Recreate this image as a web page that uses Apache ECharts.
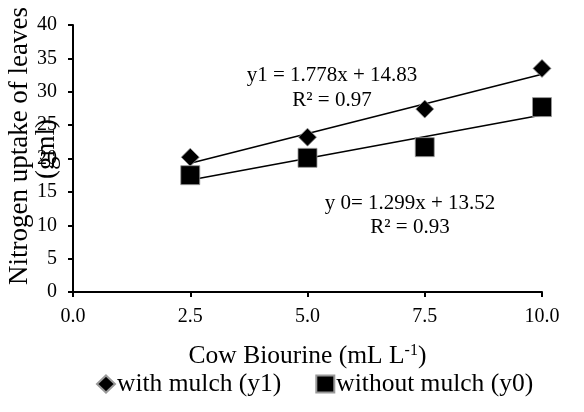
<!DOCTYPE html>
<html><head><meta charset="utf-8">
<script src="https://cdn.jsdelivr.net/npm/echarts@6/dist/echarts.min.js"></script>
<style>html,body{margin:0;padding:0;background:#fff}#c{width:584px;height:412px}</style>
</head><body><div id="c"></div>
<script>
const xValues = [2.5, 5.0, 7.5, 10.0];
const withMulch = [20.2, 23.2, 27.4, 33.5];
const withoutMulch = [17.5, 20.1, 21.7, 27.7];
const fitWith = {slope: 1.778, intercept: 14.83};
const fitWithout = {slope: 1.299, intercept: 13.52};
const eqWith = ['y1 = 1.778x + 14.83', 'R² = 0.97'];
const eqWithout = ['y 0= 1.299x + 13.52', 'R² = 0.93'];

const font = 'Liberation Serif';
const pts = (ys) => xValues.map((x, i) => [x, ys[i]]);
const line = (f) => [xValues[0], xValues[xValues.length-1]].map(x => [x, f.slope * x + f.intercept]);

const chart = echarts.init(document.getElementById('c'));
chart.setOption({
  animation: false,
  grid: {left: 73, right: 42, top: 25, bottom: 120},
  xAxis: {
    type: 'value', min: 0, max: 10, interval: 2.5,
    axisLine: {lineStyle: {color: '#000', width: 2}},
    axisTick: {show: true, inside: false, length: 5, lineStyle: {color: '#000', width: 2}},
    axisLabel: {color: '#000', fontFamily: font, fontSize: 20, margin: 15, formatter: v => v.toFixed(1)},
    splitLine: {show: false},
    name: 'Cow Biourine (mL L{sup|-1})', nameLocation: 'middle', nameGap: 51,
    nameTextStyle: {color: '#000', fontFamily: font, fontSize: 25.5, rich: {sup: {fontFamily: font, fontSize: 16, verticalAlign: 'top', padding: [0,0,10,0], color:'#000'}}}
  },
  yAxis: {
    type: 'value', min: 0, max: 40, interval: 5,
    axisLine: {show: true, lineStyle: {color: '#000', width: 2}},
    axisTick: {show: true, length: 5, lineStyle: {color: '#000', width: 2}},
    axisLabel: {color: '#000', fontFamily: font, fontSize: 20, margin: 16},
    splitLine: {show: false}
  },
  legend: {
    top: 366, left: 91, itemGap: 34, itemWidth: 18, itemHeight: 17,
    textStyle: {color: '#000', fontFamily: font, fontSize: 25.5, padding: [0,0,0,-3]},
    data: [{name: 'with mulch (y1)', icon: 'diamond'}, {name: 'without mulch (y0)', icon: 'rect'}]
  },
  graphic: [
    {type: 'text', rotation: Math.PI/2, x: 20, y: 146, style: {text: 'Nitrogen uptake of leaves', fill: '#000', font: '27px "Liberation Serif"', textAlign: 'center', textVerticalAlign: 'middle'}},
    {type: 'text', rotation: Math.PI/2, x: 47, y: 149, style: {text: '(gml)', fill: '#000', font: '27px "Liberation Serif"', textAlign: 'center', textVerticalAlign: 'middle'}},
    {type: 'text', x: 332, y: 75, style: {text: eqWith[0], fill: '#000', font: '21px "Liberation Serif"', textAlign: 'center', textVerticalAlign: 'middle'}},
    {type: 'text', x: 332, y: 100, style: {text: eqWith[1], fill: '#000', font: '21px "Liberation Serif"', textAlign: 'center', textVerticalAlign: 'middle'}},
    {type: 'text', x: 410, y: 203, style: {text: eqWithout[0], fill: '#000', font: '21px "Liberation Serif"', textAlign: 'center', textVerticalAlign: 'middle'}},
    {type: 'text', x: 410, y: 227, style: {text: eqWithout[1], fill: '#000', font: '21px "Liberation Serif"', textAlign: 'center', textVerticalAlign: 'middle'}}
  ],
  series: [
    {type: 'line', data: line(fitWith), symbol: 'none', lineStyle: {color: '#000', width: 1.6}, silent: true, z: 2},
    {type: 'line', data: line(fitWithout), symbol: 'none', lineStyle: {color: '#000', width: 1.6}, silent: true, z: 2},
    {name: 'with mulch (y1)', type: 'scatter', data: pts(withMulch), symbol: 'diamond', symbolSize: 18,
     itemStyle: {color: '#000', borderColor: '#999', borderWidth: 0.8, opacity: 1}, z: 3},
    {name: 'without mulch (y0)', type: 'scatter', data: pts(withoutMulch), symbol: 'rect', symbolSize: 19,
     itemStyle: {color: '#000', borderColor: '#999', borderWidth: 0.8, opacity: 1}, z: 3}
  ]
});
</script></body></html>
